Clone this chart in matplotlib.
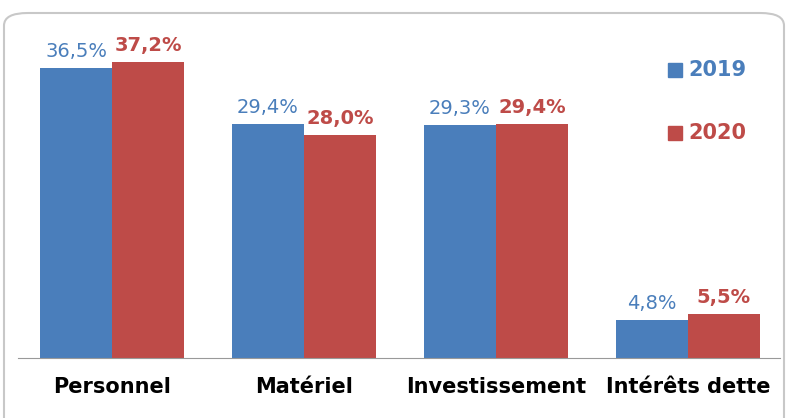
import numpy as np
import matplotlib
matplotlib.use("Agg")
import matplotlib.pyplot as plt
from matplotlib.patches import FancyBboxPatch

categories = ["Personnel", "Matériel", "Investissement", "Intérêts dette"]
vals_2019 = [36.5, 29.4, 29.3, 4.8]
vals_2020 = [37.2, 28.0, 29.4, 5.5]
years = ["2019", "2020"]

BLUE = "#4a7ebb"
RED = "#be4b48"

W, H = 791, 418
fig = plt.figure(figsize=(W / 100, H / 100), dpi=100)
fig.patch.set_facecolor("white")

# rounded frame around the chart
fig.patches.append(FancyBboxPatch((4 / W, -20 / H), 780 / W, 425 / H,
                                  boxstyle="round,pad=0,rounding_size=0.03",
                                  transform=fig.transFigure, fill=False,
                                  ec="#c8c8c8", lw=1.5))

ax = fig.add_axes([18 / W, 60 / H, 762 / W, 338 / H])
x = np.arange(len(categories))
bw = 0.375
b1 = ax.bar(x - bw / 2, vals_2019, bw, color=BLUE)
b2 = ax.bar(x + bw / 2, vals_2020, bw, color=RED)

fmt = lambda v: f"{v:.1f}%".replace(".", ",")
for rect, v in zip(b1, vals_2019):
    ax.text(rect.get_x() + rect.get_width() / 2, v + 0.9, fmt(v),
            ha="center", va="bottom", color=BLUE, fontsize=14)
for rect, v in zip(b2, vals_2020):
    ax.text(rect.get_x() + rect.get_width() / 2, v + 0.9, fmt(v),
            ha="center", va="bottom", color=RED, fontsize=14, fontweight="bold")

ax.set_xlim(-0.49, 3.48)
ax.set_ylim(0, 42.5)
ax.set_xticks(x)
ax.set_xticklabels(categories, fontsize=15, fontweight="bold")
ax.tick_params(axis="x", length=0, pad=14)
ax.set_yticks([])
for s in ["top", "right", "left"]:
    ax.spines[s].set_visible(False)
ax.spines["bottom"].set_color("#999999")

# legend drawn as squares + coloured text
for (yy, col, lab) in [(348, BLUE, years[0]), (285, RED, years[1])]:
    fig.patches.append(plt.Rectangle((668 / W, yy / H - 7 / H), 14 / W, 14 / H,
                                     transform=fig.transFigure, color=col))
    fig.text(688 / W, yy / H, lab, color=col, fontsize=15, fontweight="bold",
             va="center", ha="left")

fig.savefig("out.png", dpi=100)
